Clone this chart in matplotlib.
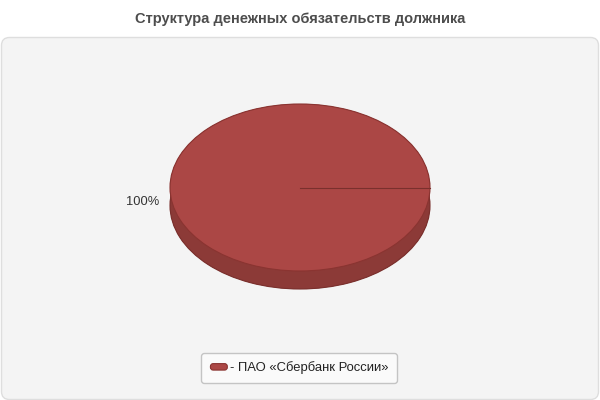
import numpy as np
import matplotlib.pyplot as plt
from matplotlib.patches import FancyBboxPatch
from matplotlib.legend_handler import HandlerPatch

plt.rcParams['font.family'] = ['Liberation Sans', 'DejaVu Sans']

#chart data
title = 'Структура денежных обязательств должника'
creditors = ['ПАО «Сбербанк России»']
amounts = [100.0]
top_colors = ['#ab4745']
side_colors = ['#8c3a37']

#pie geometry in pixels (600x400 canvas)
cx, cy = 300, 187.5
rx, ry = 130, 83.5
depth = 18

fig = plt.figure(figsize=(6, 4), dpi=100)
fig.patch.set_facecolor('white')

#background axes in pixel coordinates
bg = fig.add_axes([0, 0, 1, 1])
bg.set_xlim(0, 600)
bg.set_ylim(400, 0)
bg.axis('off')
panel = FancyBboxPatch((1.5, 37.5), 597, 362, boxstyle='round,pad=0,rounding_size=8',
                       facecolor='#f4f4f4', edgecolor='#dedede', linewidth=1)
bg.add_patch(panel)
bg.text(300, 19, title, ha='center', va='center', fontsize=10.5, fontweight='bold', color='#4d4d4d')

#pie axes: one unit = rx horizontally, ry vertically
ax = fig.add_axes([0, 0, 1, 1])
ax.patch.set_alpha(0)
shares = np.array(amounts) / sum(amounts)
pct_labels = ['%d%%' % round(s * 100) for s in shares]

#side of the 3d pie: stacked layers shifted down
dy = depth / ry
for k in np.linspace(dy, 0, 24):
    ax.pie(amounts, colors=side_colors, startangle=0, counterclock=True,
           center=(0, -k), wedgeprops=dict(linewidth=0))
ax.pie(amounts, colors=side_colors, startangle=0, center=(0, -dy),
       wedgeprops=dict(linewidth=0.8, edgecolor='#7a302d'))
wedges, texts = ax.pie(amounts, colors=top_colors, startangle=0, labels=pct_labels,
                       labeldistance=1.08, textprops=dict(fontsize=9.3, color='#333333'),
                       wedgeprops=dict(linewidth=0.8, edgecolor='#8a3431'))
for t in texts:
    t.set_y(t.get_position()[1] - 14 / ry)

#slice boundary lines from the centre
start = 0.0
for s in shares:
    a = np.deg2rad(start)
    ax.plot([0, np.cos(a)], [0, np.sin(a)], color='#7a302d', linewidth=0.8)
    start += s * 360

ax.set_aspect('auto')
ax.set_xlim(-cx / rx, (600 - cx) / rx)
ax.set_ylim(-(400 - cy) / ry, cy / ry)
ax.axis('off')


class RoundHandler(HandlerPatch):
    def create_artists(self, legend, orig_handle, xdescent, ydescent, width, height, fontsize, trans):
        p = FancyBboxPatch((-xdescent + 0.5, -ydescent + 0.5), width - 1, height - 1,
                           boxstyle='round,pad=0,rounding_size=2',
                           facecolor=orig_handle.get_facecolor(), edgecolor='#8a3431',
                           linewidth=0.8, transform=trans)
        return [p]


leg = bg.legend(wedges, ['- ' + c for c in creditors], loc='center',
                bbox_to_anchor=(0.4985, 0.08), bbox_transform=fig.transFigure,
                fontsize=9.4, frameon=True, fancybox=True, handlelength=1.4,
                handleheight=0.55, handletextpad=0.15, borderpad=0.65, borderaxespad=0,
                handler_map={wedges[0].__class__: RoundHandler()})
leg.get_frame().set_facecolor('#fafafa')
leg.get_frame().set_edgecolor('#c4c4c4')
leg.get_frame().set_alpha(1)
for t in leg.get_texts():
    t.set_color('#222222')

fig.savefig('out.png', dpi=100, facecolor='white')
